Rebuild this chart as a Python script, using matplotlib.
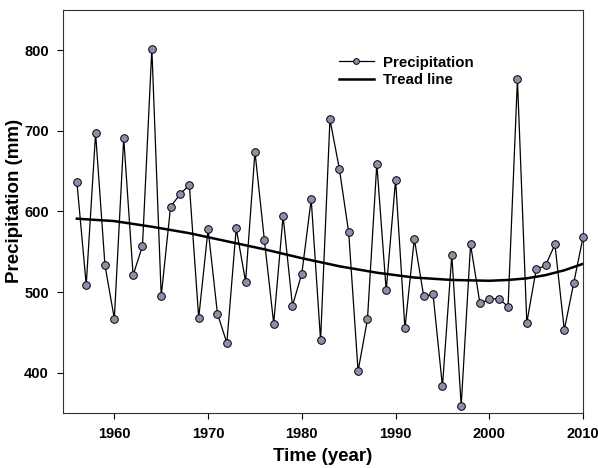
import matplotlib.pyplot as plt

# annual precipitation (mm)
years = list(range(1956, 2011))
precip = [637, 509, 697, 533, 467, 691, 521, 557, 802, 495,
          606, 621, 633, 468, 578, 473, 437, 579, 513, 674,
          565, 461, 594, 483, 523, 615, 440, 714, 653, 574,
          402, 466, 659, 502, 639, 455, 566, 495, 497, 383,
          546, 359, 559, 486, 491, 492, 482, 764, 462, 528,
          533, 559, 453, 511, 568]

# trend line values at selected years
trend_years = [1956, 1960, 1964, 1968, 1972, 1976, 1980, 1984,
               1988, 1992, 1996, 2000, 2002, 2004, 2006, 2008, 2010]
trend_vals = [591, 588, 581, 573, 563, 553, 542, 532,
              524, 518, 515, 514, 515, 517, 521, 527, 535]

plt.rcParams["font.family"] = ["Liberation Sans", "DejaVu Sans"]
plt.rcParams["font.weight"] = "bold"

fig = plt.figure(figsize=(5.98, 4.68), dpi=100)
ax = fig.add_axes([0.105, 0.1175, 0.87, 0.8615])

ax.plot(years, precip, color="black", lw=0.9, marker="o", ms=5.5,
        mfc="#8e8eab", mec="black", mew=0.7, label="Precipitation",
        clip_on=False, zorder=3)
ax.plot(trend_years, trend_vals, color="black", lw=1.8, label="Tread line")

ax.set_xlim(1954.5, 2010)
ax.set_ylim(350, 850)
ax.set_xticks([1960, 1970, 1980, 1990, 2000, 2010])
ax.set_yticks([400, 500, 600, 700, 800])
ax.tick_params(direction="out", length=4, width=0.8, labelsize=10.5, pad=6)
ax.tick_params(axis="x", top=False)
ax.tick_params(axis="y", right=False)
for lbl in ax.get_xticklabels() + ax.get_yticklabels():
    lbl.set_fontweight("bold")

for sp in ax.spines.values():
    sp.set_linewidth(0.8)
    sp.set_color("#333333")

ax.set_xlabel("Time (year)", fontsize=13.5, fontweight="bold", labelpad=5)
ax.set_ylabel("Precipitation (mm)", fontsize=13.5, fontweight="bold")
ax.yaxis.set_label_coords(-0.077, 0.527)

leg = ax.legend(loc="upper left", bbox_to_anchor=(0.505, 0.92), frameon=False,
                fontsize=10.8, handlelength=2.3, handletextpad=0.6,
                labelspacing=0.25, markerscale=0.75)
for t in leg.get_texts():
    t.set_fontweight("bold")

fig.savefig("out.png", dpi=100)
